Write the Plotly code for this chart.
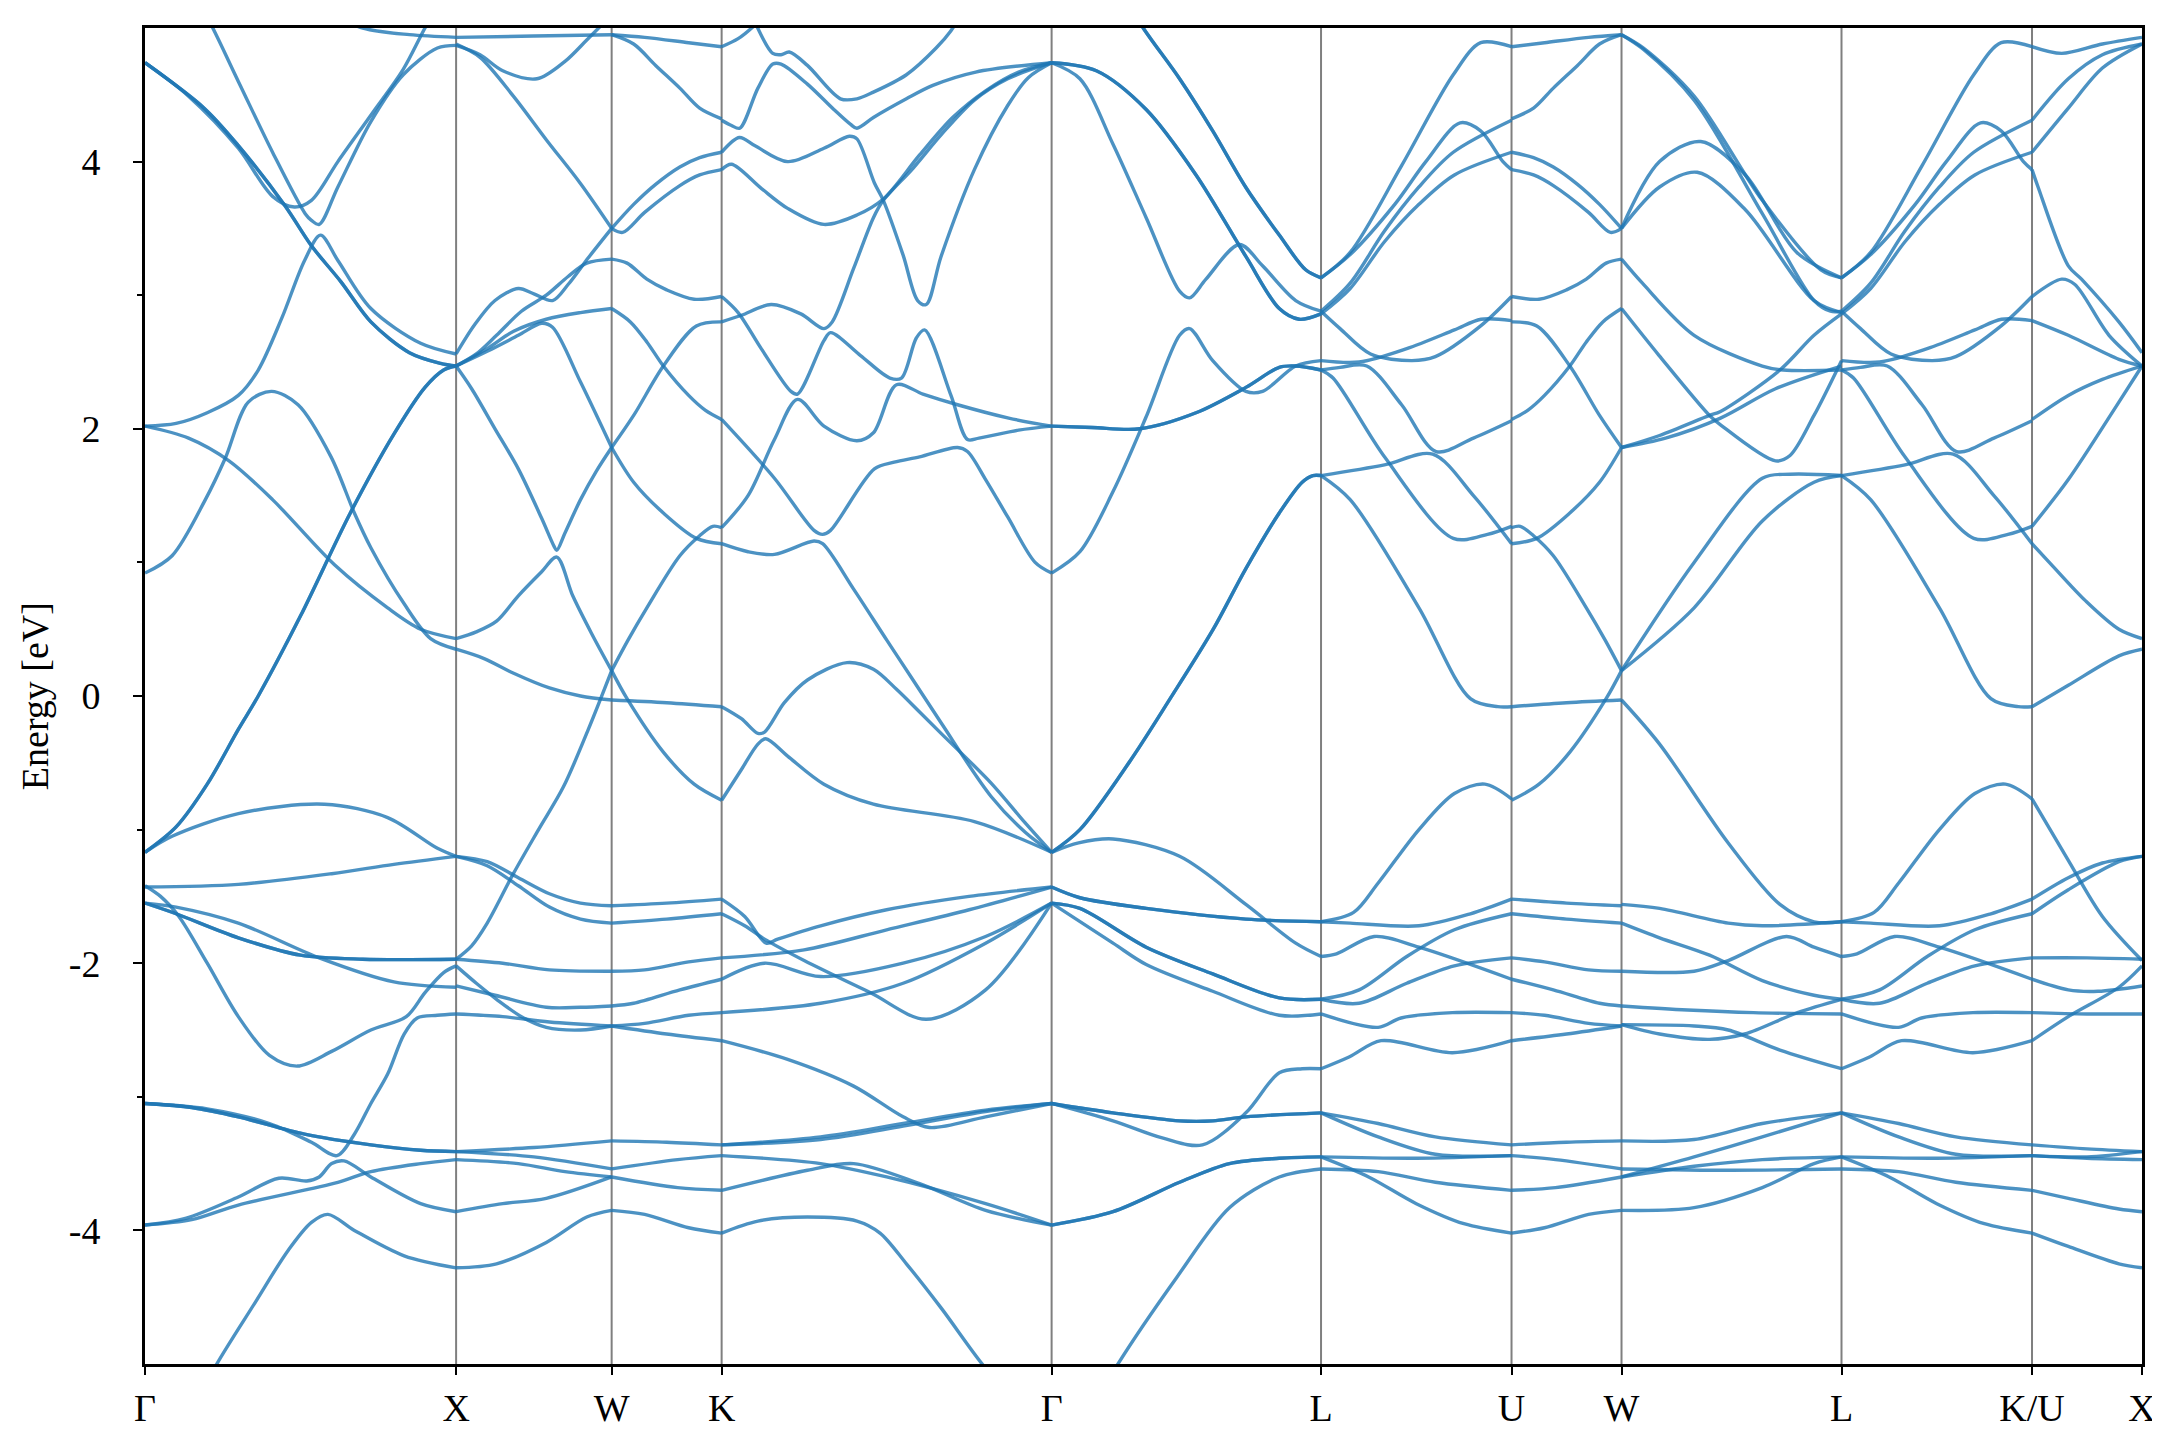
import plotly.graph_objects as go

# ---------------- high-symmetry path ----------------
labels = ["Γ", "X", "W", "K", "Γ", "L", "U", "W", "L", "K/U", "X"]
seg_lengths = [1.0, 0.5, 0.35355, 1.06066, 0.86603, 0.61237, 0.35355, 0.70711, 0.61237, 0.35355]

# Each band piece: list of (fraction along segment, energy in eV)
# ---- Gamma -> X ----
GX = [
    [(0,4.74),(0.14,4.49),(0.30,4.1),(0.41,3.74),(0.48,3.66),(0.535,3.71),(0.62,4.0),(0.73,4.36),(0.83,4.69),(0.9,5.0),(0.95,5.2)],
    [(0.14,5.3),(0.2,5.08),(0.3,4.6),(0.41,4.07),(0.515,3.61),(0.535,3.56),(0.56,3.53),(0.62,3.81),(0.726,4.3),(0.83,4.65),(0.94,4.85),(1,4.87)],
    [(0.55,5.15),(0.7,5.0),(0.85,4.95),(1,4.93)],
    [(0,2.02),(0.1,2.04),(0.2,2.12),(0.3,2.25),(0.364,2.44),(0.44,2.83),(0.513,3.26),(0.564,3.45),(0.62,3.26),(0.726,2.9),(0.886,2.64),(1,2.56)],
    [(0,4.74),(0.19,4.4),(0.30,4.12),(0.45,3.67),(0.535,3.37),(0.63,3.1),(0.726,2.8),(0.85,2.57),(0.95,2.49),(1,2.47)],
    [(0,4.74),(0.19,4.4),(0.30,4.12),(0.45,3.67),(0.535,3.37),(0.63,3.1),(0.726,2.8),(0.85,2.57),(0.95,2.49),(1,2.47)],
    [(0,2.02),(0.14,1.93),(0.27,1.76),(0.41,1.47),(0.61,0.98),(0.78,0.66),(0.886,0.5),(1,0.43)],
    [(0,0.92),(0.087,1.05),(0.194,1.47),(0.258,1.78),(0.332,2.2),(0.407,2.28),(0.492,2.18),(0.598,1.79),(0.673,1.37),(0.726,1.11),(0.833,0.69),(0.918,0.43),(1,0.35)],
    [(0,-1.17),(0.1,-0.98),(0.2,-0.66),(0.3,-0.25),(0.364,0.0),(0.5,0.6),(0.66,1.37),(0.8,1.96),(0.9,2.31),(0.96,2.44),(1,2.47)],
    [(0,-1.17),(0.1,-0.98),(0.2,-0.66),(0.3,-0.25),(0.364,0.0),(0.5,0.6),(0.66,1.37),(0.8,1.96),(0.9,2.31),(0.96,2.44),(1,2.47)],
    [(0,-1.17),(0.087,-1.05),(0.3,-0.88),(0.577,-0.81),(0.78,-0.91),(0.94,-1.14),(1,-1.2)],
    [(0,-1.43),(0.3,-1.41),(0.6,-1.33),(0.8,-1.26),(1,-1.2)],
    [(0,-1.42),(0.05,-1.5),(0.109,-1.65),(0.2,-2.0),(0.3,-2.4),(0.4,-2.69),(0.49,-2.77),(0.6,-2.66),(0.726,-2.5),(0.84,-2.4),(0.9,-2.22),(0.96,-2.07),(1,-2.02)],
    [(0,-1.55),(0.1,-1.63),(0.3,-1.81),(0.5,-1.94),(0.7,-1.97),(1,-1.97)],
    [(0,-1.55),(0.1,-1.63),(0.3,-1.81),(0.5,-1.94),(0.7,-1.97),(1,-1.97)],
    [(0,-1.55),(0.1,-1.58),(0.3,-1.70),(0.56,-1.96),(0.8,-2.14),(1,-2.18)],
    [(0,-3.05),(0.15,-3.08),(0.3,-3.15),(0.513,-3.28),(0.726,-3.36),(0.886,-3.4),(1,-3.41)],
    [(0,-3.05),(0.15,-3.08),(0.3,-3.15),(0.513,-3.28),(0.726,-3.36),(0.886,-3.4),(1,-3.41)],
    [(0,-3.05),(0.2,-3.09),(0.4,-3.2),(0.535,-3.34),(0.617,-3.44),(0.673,-3.28),(0.726,-3.05),(0.78,-2.83),(0.833,-2.53),(0.875,-2.41),(0.94,-2.39),(1,-2.38)],
    [(0,-3.96),(0.13,-3.91),(0.3,-3.75),(0.43,-3.61),(0.52,-3.63),(0.56,-3.6),(0.6,-3.5),(0.64,-3.48),(0.726,-3.6),(0.886,-3.8),(1,-3.86)],
    [(0,-3.96),(0.15,-3.92),(0.3,-3.81),(0.62,-3.64),(0.726,-3.56),(0.886,-3.5),(1,-3.47)],
    [(0.2,-5.15),(0.226,-5.02),(0.354,-4.54),(0.46,-4.15),(0.535,-3.94),(0.588,-3.88),(0.673,-4.0),(0.833,-4.19),(1,-4.28)],
]

# ---- X -> W ----
XW = [
    [(0,4.93),(0.5,4.94),(1,4.95)],
    [(0,4.87),(0.154,4.8),(0.3,4.68),(0.52,4.62),(0.7,4.75),(0.84,4.91),(0.95,5.04),(1,5.1)],
    [(0,4.88),(0.154,4.78),(0.368,4.49),(0.582,4.16),(0.797,3.84),(1,3.5)],
    [(0,2.56),(0.12,2.78),(0.25,2.96),(0.4,3.05),(0.5,3.01),(0.62,2.96),(0.72,3.08),(0.85,3.28),(1,3.5)],
    [(0,2.47),(0.13,2.56),(0.26,2.7),(0.42,2.88),(0.58,3.0),(0.72,3.14),(0.84,3.24),(1,3.27)],
    [(0,2.47),(0.2,2.6),(0.37,2.73),(0.58,2.82),(0.8,2.87),(1,2.9)],
    [(0,2.47),(0.2,2.58),(0.4,2.7),(0.55,2.79),(0.62,2.76),(0.8,2.35),(1,1.86)],
    [(0,2.47),(0.1,2.3),(0.25,2.0),(0.4,1.7),(0.55,1.33),(0.63,1.12),(0.647,1.09),(0.7,1.22),(0.8,1.47),(0.9,1.68),(1,1.86)],
    [(0,0.43),(0.13,0.48),(0.26,0.56),(0.4,0.75),(0.55,0.93),(0.647,1.04),(0.75,0.75),(0.87,0.47),(1,0.19)],
    [(0,0.35),(0.18,0.28),(0.37,0.17),(0.6,0.06),(0.8,0.0),(1,-0.03)],
    [(0,-1.97),(0.1,-1.87),(0.2,-1.7),(0.368,-1.33),(0.53,-1.0),(0.69,-0.68),(0.85,-0.25),(1,0.19)],
    [(0,-1.2),(0.2,-1.24),(0.4,-1.36),(0.6,-1.48),(0.8,-1.55),(1,-1.57)],
    [(0,-1.2),(0.2,-1.27),(0.4,-1.42),(0.6,-1.58),(0.8,-1.67),(1,-1.70)],
    [(0,-1.97),(0.3,-2.0),(0.6,-2.05),(1,-2.06)],
    [(0,-2.02),(0.13,-2.15),(0.26,-2.27),(0.42,-2.4),(0.58,-2.48),(0.8,-2.5),(1,-2.47)],
    [(0,-2.17),(0.25,-2.24),(0.58,-2.33),(0.8,-2.33),(1,-2.32)],
    [(0,-2.38),(0.3,-2.4),(0.6,-2.44),(1,-2.47)],
    [(0,-3.41),(0.5,-3.38),(1,-3.33)],
    [(0,-3.41),(0.5,-3.45),(1,-3.54)],
    [(0,-3.47),(0.4,-3.5),(0.7,-3.56),(1,-3.6)],
    [(0,-3.86),(0.3,-3.8),(0.58,-3.76),(1,-3.6)],
    [(0,-4.28),(0.26,-4.25),(0.58,-4.09),(0.84,-3.9),(1,-3.85)],
]

# ---- W -> K (U -> W is the same, reversed) ----
WK = [
    [(0,4.95),(0.3,4.93),(0.7,4.89),(1,4.86)],
    [(0,4.95),(0.2,4.88),(0.4,4.72),(0.62,4.55),(0.8,4.4),(1,4.32)],
    [(0,3.5),(0.2,3.68),(0.4,3.83),(0.62,3.96),(0.8,4.03),(1,4.07)],
    [(0,3.5),(0.1,3.47),(0.3,3.62),(0.62,3.82),(0.8,3.9),(1,3.94)],
    [(0,3.27),(0.14,3.24),(0.32,3.12),(0.5,3.04),(0.75,2.97),(1,2.99)],
    [(0,2.9),(0.17,2.8),(0.32,2.65),(0.47,2.47),(0.7,2.25),(0.85,2.14),(1,2.07)],
    [(0,1.86),(0.2,2.1),(0.47,2.47),(0.77,2.77),(1,2.8)],
    [(0,1.86),(0.2,1.6),(0.47,1.37),(0.77,1.18),(1,1.14)],
    [(0,0.19),(0.15,0.42),(0.32,0.66),(0.62,1.05),(0.8,1.2),(0.92,1.27),(1,1.26)],
    [(0,-0.03),(0.5,-0.05),(1,-0.08)],
    [(0,0.19),(0.14,-0.02),(0.47,-0.42),(0.75,-0.66),(1,-0.78)],
    [(0,-1.57),(0.5,-1.55),(1,-1.52)],
    [(0,-1.70),(0.5,-1.67),(1,-1.63)],
    [(0,-2.06),(0.3,-2.05),(0.7,-1.99),(1,-1.96)],
    [(0,-2.47),(0.5,-2.53),(1,-2.58)],
    [(0,-2.32),(0.2,-2.3),(0.62,-2.2),(1,-2.12)],
    [(0,-2.47),(0.3,-2.45),(0.7,-2.39),(1,-2.37)],
    [(0,-3.33),(0.5,-3.34),(1,-3.36)],
    [(0,-3.54),(0.6,-3.47),(1,-3.44)],
    [(0,-3.6),(0.6,-3.68),(1,-3.7)],
    [(0,-3.85),(0.3,-3.88),(0.7,-3.98),(1,-4.02)],
]

# ---- K -> Gamma ----
KG = [
    [(0,4.86),(0.05,4.92),(0.1,5.02),(0.15,5.15)],
    [(0.1,5.05),(0.155,4.81),(0.18,4.8),(0.205,4.82),(0.26,4.72),(0.36,4.47),(0.41,4.47),(0.46,4.52),(0.56,4.65),(0.65,4.85),(0.695,4.98),(0.75,5.2)],
    [(0,4.31),(0.03,4.27),(0.055,4.25),(0.11,4.55),(0.155,4.73),(0.18,4.73),(0.26,4.58),(0.34,4.39),(0.39,4.28),(0.41,4.25),(0.46,4.33),(0.56,4.47),(0.64,4.57),(0.77,4.67),(1,4.74)],
    [(0,4.07),(0.054,4.18),(0.1,4.12),(0.2,4.0),(0.31,4.1),(0.387,4.19),(0.41,4.17),(0.463,3.84),(0.49,3.71),(0.55,3.3),(0.594,2.96),(0.62,2.93),(0.665,3.29),(0.766,3.94),(0.867,4.42),(0.93,4.63),(1,4.74)],
    [(0,3.94),(0.03,3.98),(0.12,3.8),(0.2,3.65),(0.31,3.53),(0.41,3.6),(0.49,3.72),(0.6,4.05),(0.7,4.33),(0.8,4.53),(0.9,4.67),(1,4.74)],
    [(0,2.8),(0.06,2.85),(0.15,2.93),(0.24,2.86),(0.31,2.75),(0.335,2.8),(0.4,3.2),(0.46,3.58),(0.49,3.71),(0.58,3.95),(0.665,4.2),(0.766,4.46),(0.867,4.62),(1,4.74)],
    [(0,2.99),(0.05,2.87),(0.12,2.6),(0.21,2.28),(0.23,2.26),(0.31,2.66),(0.33,2.72),(0.42,2.55),(0.51,2.38),(0.545,2.38),(0.59,2.68),(0.615,2.74),(0.695,2.25),(0.745,1.92),(0.78,1.93),(0.9,1.99),(1,2.02)],
    [(0,1.26),(0.08,1.5),(0.16,1.92),(0.23,2.22),(0.31,2.02),(0.41,1.91),(0.46,1.97),(0.53,2.33),(0.61,2.26),(0.715,2.18),(0.87,2.08),(1,2.02)],
    [(0,2.07),(0.16,1.63),(0.28,1.24),(0.306,1.21),(0.33,1.24),(0.463,1.7),(0.523,1.75),(0.6,1.79),(0.715,1.86),(0.745,1.83),(0.8,1.62),(0.867,1.34),(0.95,1.0),(1,0.92)],
    [(0,1.14),(0.08,1.08),(0.16,1.06),(0.28,1.16),(0.306,1.14),(0.4,0.8),(0.5,0.42),(0.58,0.12),(0.665,-0.2),(0.816,-0.75),(0.92,-1.02),(1,-1.17)],
    [(0,-0.08),(0.06,-0.17),(0.11,-0.28),(0.13,-0.27),(0.19,-0.05),(0.26,0.12),(0.38,0.25),(0.46,0.2),(0.53,0.05),(0.6,-0.12),(0.665,-0.28),(0.816,-0.65),(0.92,-0.95),(1,-1.17)],
    [(0,-0.78),(0.06,-0.55),(0.11,-0.36),(0.134,-0.32),(0.2,-0.45),(0.31,-0.66),(0.46,-0.81),(0.766,-0.94),(1,-1.17)],
    [(0,-1.52),(0.07,-1.65),(0.135,-1.85),(0.17,-1.82),(0.3,-1.72),(0.5,-1.6),(0.75,-1.5),(1,-1.43)],
    [(0,-1.63),(0.07,-1.72),(0.13,-1.82),(0.25,-1.98),(0.45,-2.22),(0.62,-2.42),(0.8,-2.2),(1,-1.55)],
    [(0,-1.96),(0.25,-1.9),(0.5,-1.75),(0.75,-1.6),(1,-1.43)],
    [(0,-2.12),(0.13,-2.0),(0.3,-2.1),(0.55,-2.0),(0.8,-1.8),(1,-1.55)],
    [(0,-2.37),(0.3,-2.3),(0.55,-2.15),(0.8,-1.85),(1,-1.55)],
    [(0,-2.58),(0.2,-2.72),(0.4,-2.92),(0.55,-3.15),(0.63,-3.23),(0.8,-3.15),(1,-3.05)],
    [(0,-3.36),(0.3,-3.3),(0.55,-3.2),(0.8,-3.1),(1,-3.05)],
    [(0,-3.36),(0.3,-3.32),(0.55,-3.22),(0.8,-3.11),(1,-3.05)],
    [(0,-3.44),(0.3,-3.5),(0.5,-3.6),(0.8,-3.8),(1,-3.96)],
    [(0,-3.7),(0.26,-3.55),(0.4,-3.5),(0.6,-3.65),(0.8,-3.85),(1,-3.96)],
    [(0,-4.02),(0.11,-3.93),(0.26,-3.9),(0.41,-3.93),(0.48,-4.02),(0.56,-4.25),(0.665,-4.58),(0.796,-5.02),(0.9,-5.3)],
]

# ---- Gamma -> L ----
GL = [
    [(0.25,5.3),(0.34,5.0),(0.475,4.62),(0.598,4.23),(0.72,3.81),(0.845,3.45),(0.943,3.19),(1,3.13)],
    [(0.25,5.3),(0.34,5.0),(0.475,4.62),(0.598,4.23),(0.72,3.81),(0.845,3.45),(0.943,3.19),(1,3.13)],
    [(0,4.74),(0.166,4.68),(0.351,4.39),(0.536,3.9),(0.721,3.29),(0.845,2.9),(0.919,2.82),(1,2.86)],
    [(0,4.74),(0.166,4.68),(0.351,4.39),(0.536,3.9),(0.721,3.29),(0.845,2.9),(0.919,2.82),(1,2.86)],
    [(0,4.74),(0.105,4.62),(0.228,4.13),(0.351,3.58),(0.475,3.03),(0.512,2.98),(0.573,3.12),(0.697,3.38),(0.783,3.22),(0.906,2.96),(1,2.88)],
    [(0,0.92),(0.105,1.08),(0.228,1.53),(0.351,2.09),(0.475,2.7),(0.512,2.75),(0.598,2.51),(0.721,2.28),(0.783,2.28),(0.906,2.47),(1,2.51)],
    [(0,2.02),(0.15,2.01),(0.327,2.0),(0.536,2.12),(0.721,2.31),(0.845,2.46),(0.906,2.47),(1,2.44)],
    [(0,2.02),(0.15,2.01),(0.327,2.0),(0.536,2.12),(0.721,2.31),(0.845,2.46),(0.906,2.47),(1,2.44)],
    [(0,-1.17),(0.105,-1.0),(0.29,-0.49),(0.44,-0.02),(0.6,0.5),(0.72,0.95),(0.845,1.37),(0.93,1.6),(0.97,1.65),(1,1.65)],
    [(0,-1.17),(0.105,-1.0),(0.29,-0.49),(0.44,-0.02),(0.6,0.5),(0.72,0.95),(0.845,1.37),(0.93,1.6),(0.97,1.65),(1,1.65)],
    [(0,-1.17),(0.1,-1.1),(0.228,-1.07),(0.475,-1.2),(0.721,-1.56),(0.906,-1.85),(1,-1.95)],
    [(0,-1.43),(0.105,-1.51),(0.351,-1.59),(0.721,-1.67),(1,-1.69)],
    [(0,-1.43),(0.105,-1.51),(0.351,-1.59),(0.721,-1.67),(1,-1.69)],
    [(0,-1.55),(0.105,-1.59),(0.351,-1.88),(0.598,-2.08),(0.845,-2.26),(1,-2.27)],
    [(0,-1.55),(0.105,-1.59),(0.351,-1.88),(0.598,-2.08),(0.845,-2.26),(1,-2.27)],
    [(0,-1.55),(0.228,-1.85),(0.351,-2.01),(0.598,-2.21),(0.845,-2.39),(1,-2.38)],
    [(0,-3.05),(0.228,-3.12),(0.475,-3.18),(0.598,-3.18),(0.721,-3.15),(1,-3.12)],
    [(0,-3.05),(0.228,-3.12),(0.475,-3.18),(0.598,-3.18),(0.721,-3.15),(1,-3.12)],
    [(0,-3.05),(0.228,-3.18),(0.414,-3.31),(0.56,-3.36),(0.721,-3.12),(0.845,-2.82),(0.93,-2.79),(1,-2.79)],
    [(0,-3.96),(0.228,-3.86),(0.475,-3.64),(0.66,-3.5),(0.845,-3.46),(1,-3.45)],
    [(0,-3.96),(0.228,-3.86),(0.475,-3.64),(0.66,-3.5),(0.845,-3.46),(1,-3.45)],
    [(0.19,-5.2),(0.24,-5.02),(0.465,-4.35),(0.66,-3.83),(0.845,-3.6),(1,-3.54)],
]

# ---- L -> U (L -> K is the same) ----
LU = [
    [(0,3.13),(0.153,3.32),(0.423,3.97),(0.694,4.65),(0.838,4.89),(1,4.86)],
    [(0,3.13),(0.15,3.3),(0.387,3.68),(0.55,4.0),(0.73,4.29),(0.838,4.23),(0.955,4.0),(1,3.94)],
    [(0,2.88),(0.153,3.09),(0.333,3.48),(0.514,3.81),(0.694,4.07),(1,4.31)],
    [(0,2.86),(0.153,3.05),(0.333,3.4),(0.514,3.68),(0.7,3.9),(1,4.07)],
    [(0,2.88),(0.1,2.75),(0.26,2.56),(0.477,2.51),(0.6,2.54),(0.838,2.77),(1,2.99)],
    [(0,2.51),(0.2,2.5),(0.45,2.6),(0.7,2.74),(0.84,2.82),(1,2.81)],
    [(0,2.44),(0.1,2.46),(0.24,2.47),(0.423,2.18),(0.604,1.83),(0.8,1.93),(1,2.06)],
    [(0,2.44),(0.063,2.38),(0.333,1.79),(0.694,1.18),(0.874,1.21),(1,1.27)],
    [(0,1.65),(0.333,1.73),(0.586,1.81),(0.8,1.5),(1,1.14)],
    [(0,1.65),(0.153,1.47),(0.514,0.66),(0.784,-0.02),(0.928,-0.08),(1,-0.08)],
    [(0,-1.69),(0.171,-1.62),(0.3,-1.4),(0.514,-1.0),(0.7,-0.73),(0.86,-0.66),(1,-0.77)],
    [(0,-1.69),(0.153,-1.70),(0.514,-1.72),(0.784,-1.63),(1,-1.52)],
    [(0,-1.95),(0.081,-1.93),(0.279,-1.8),(0.514,-1.88),(1,-2.12)],
    [(0,-2.27),(0.2,-2.3),(0.45,-2.15),(0.7,-2.02),(1,-1.96)],
    [(0,-2.27),(0.2,-2.2),(0.45,-1.95),(0.7,-1.75),(1,-1.63)],
    [(0,-2.38),(0.3,-2.48),(0.42,-2.41),(0.69,-2.37),(1,-2.37)],
    [(0,-2.79),(0.15,-2.7),(0.315,-2.58),(0.69,-2.67),(1,-2.58)],
    [(0,-3.12),(0.3,-3.2),(0.6,-3.3),(1,-3.36)],
    [(0,-3.12),(0.3,-3.3),(0.6,-3.43),(1,-3.44)],
    [(0,-3.45),(0.5,-3.46),(1,-3.44)],
    [(0,-3.54),(0.3,-3.56),(0.6,-3.64),(1,-3.7)],
    [(0,-3.45),(0.25,-3.6),(0.5,-3.8),(0.75,-3.95),(1,-4.02)],
]

# ---- W -> L ----
WL = [
    [(0,4.95),(0.1,4.85),(0.33,4.49),(0.64,3.71),(0.906,3.19),(1,3.13)],
    [(0,4.95),(0.1,4.84),(0.33,4.46),(0.64,3.61),(0.875,2.96),(0.95,2.88),(1,2.88)],
    [(0,3.5),(0.173,4.0),(0.36,4.15),(0.563,3.9),(0.797,3.32),(1,3.13)],
    [(0,3.5),(0.173,3.81),(0.344,3.92),(0.563,3.64),(0.875,2.96),(1,2.87)],
    [(0,3.27),(0.095,3.09),(0.33,2.7),(0.64,2.47),(0.735,2.44),(1,2.44)],
    [(0,2.9),(0.17,2.55),(0.4,2.1),(0.45,2.03),(0.7,1.76),(0.766,1.8),(0.875,2.1),(1,2.51)],
    [(0,1.86),(0.173,1.95),(0.4,2.1),(0.45,2.13),(0.72,2.44),(0.875,2.7),(1,2.86)],
    [(0,1.86),(0.2,1.93),(0.45,2.08),(0.7,2.3),(1,2.47)],
    [(0,0.19),(0.33,1.0),(0.64,1.63),(0.766,1.66),(1,1.65)],
    [(0,0.19),(0.33,0.66),(0.64,1.31),(0.875,1.6),(1,1.65)],
    [(0,-0.03),(0.173,-0.36),(0.485,-1.1),(0.72,-1.56),(0.875,-1.69),(1,-1.69)],
    [(0,-1.56),(0.173,-1.59),(0.485,-1.7),(0.64,-1.72),(1,-1.69)],
    [(0,-1.70),(0.173,-1.81),(0.4,-1.94),(0.64,-2.13),(0.875,-2.24),(1,-2.27)],
    [(0,-2.06),(0.33,-2.06),(0.485,-1.98),(0.75,-1.8),(0.875,-1.88),(1,-1.95)],
    [(0,-2.32),(0.3,-2.35),(0.6,-2.37),(1,-2.38)],
    [(0,-2.46),(0.33,-2.47),(0.485,-2.5),(0.72,-2.65),(1,-2.79)],
    [(0,-2.46),(0.173,-2.53),(0.4,-2.57),(0.56,-2.53),(0.8,-2.37),(1,-2.27)],
    [(0,-3.33),(0.33,-3.32),(0.64,-3.2),(1,-3.12)],
    [(0,-3.54),(0.5,-3.55),(1,-3.54)],
    [(0,-3.6),(0.33,-3.52),(0.64,-3.47),(1,-3.45)],
    [(0,-3.85),(0.33,-3.83),(0.64,-3.68),(0.875,-3.5),(1,-3.45)],
    [(0,-3.6),(0.33,-3.45),(0.64,-3.3),(1,-3.12)],
]

# ---- U -> X ----
UX = [
    [(0,4.86),(0.27,4.81),(0.64,4.88),(1,4.93)],
    [(0,4.31),(0.33,4.62),(0.64,4.8),(1,4.88)],
    [(0,4.07),(0.33,4.4),(0.64,4.7),(1,4.88)],
    [(0,3.94),(0.055,3.81),(0.33,3.22),(0.45,3.12),(0.79,2.8),(1,2.57)],
    [(0,2.99),(0.27,3.12),(0.39,3.08),(0.7,2.7),(1,2.47)],
    [(0,2.81),(0.33,2.7),(0.79,2.52),(1,2.47)],
    [(0,2.07),(0.33,2.25),(0.64,2.37),(1,2.47)],
    [(0,1.27),(0.33,1.62),(0.79,2.2),(1,2.47)],
    [(0,1.14),(0.18,0.98),(0.49,0.71),(0.79,0.5),(1,0.43)],
    [(0,-0.08),(0.33,0.08),(0.79,0.3),(1,0.35)],
    [(0,-0.77),(0.33,-1.23),(0.64,-1.65),(1,-1.98)],
    [(0,-1.52),(0.33,-1.36),(0.64,-1.25),(1,-1.2)],
    [(0,-1.63),(0.33,-1.45),(0.79,-1.24),(1,-1.2)],
    [(0,-1.96),(0.5,-1.96),(1,-1.97)],
    [(0,-2.12),(0.33,-2.2),(0.6,-2.21),(1,-2.17)],
    [(0,-2.37),(0.5,-2.38),(1,-2.38)],
    [(0,-2.58),(0.33,-2.4),(0.79,-2.18),(1,-2.02)],
    [(0,-3.36),(0.5,-3.39),(1,-3.41)],
    [(0,-3.44),(0.5,-3.45),(1,-3.41)],
    [(0,-3.44),(0.5,-3.46),(1,-3.47)],
    [(0,-3.7),(0.33,-3.76),(0.79,-3.84),(1,-3.86)],
    [(0,-4.02),(0.33,-4.12),(0.79,-4.25),(1,-4.28)],
]

# segment order along the path: (band pieces, reversed?)
path_segments = [(GX, False), (XW, False), (WK, False), (KG, False), (GL, False),
                 (LU, False), (WK, True), (WL, False), (LU, False), (UX, False)]

# ---------------- figure ----------------
kpos = [0.0]
for L in seg_lengths:
    kpos.append(kpos[-1] + L)

band_color = "rgba(31,119,180,0.8)"
fig = go.Figure()
for i, (pieces, rev) in enumerate(path_segments):
    k0, L = kpos[i], seg_lengths[i]
    for piece in pieces:
        ts = [p[0] for p in piece]
        es = [p[1] for p in piece]
        if rev:
            ts = [1 - t for t in ts]
        xs = [k0 + t * L for t in ts]
        fig.add_trace(go.Scatter(x=xs, y=es, mode="lines",
                                 line=dict(color=band_color, width=3.4, shape="spline", smoothing=0.9),
                                 hoverinfo="skip", showlegend=False))

for k in kpos[1:-1]:
    fig.add_shape(type="line", x0=k, x1=k, y0=0, y1=1, xref="x", yref="paper",
                  line=dict(color="rgba(0,0,0,0.5)", width=2), layer="below")

font_family = "Liberation Serif, Times New Roman, serif"
fig.update_layout(
    width=2160, height=1440,
    margin=dict(l=137, r=23, t=20, b=84),
    plot_bgcolor="white", paper_bgcolor="white",
    font=dict(family=font_family, size=38, color="black"),
    showlegend=False,
)
fig.update_xaxes(range=[0, kpos[-1]], tickvals=kpos, ticktext=labels,
                 ticks="outside", ticklen=8, tickwidth=2, tickcolor="black",
                 ticklabelstandoff=0,
                 showline=True, linewidth=3, linecolor="black", mirror=True,
                 showgrid=False, zeroline=False, tickfont=dict(size=38))
fig.update_yaxes(range=[-5, 5], tickvals=[-4, -2, 0, 2, 4], ticktext=["-4", "-2", "0", "2", "4"],
                 ticks="outside", ticklen=9, tickwidth=2, tickcolor="black",
                 ticklabelstandoff=25,
                 minor=dict(tickvals=[-3, -1, 1, 3], ticks="outside", ticklen=5, tickwidth=1.5, tickcolor="black"),
                 showline=True, linewidth=3, linecolor="black", mirror=True,
                 showgrid=False, zeroline=False, tickfont=dict(size=38))
fig.add_annotation(text="Energy [eV]", textangle=-90, xref="paper", yref="paper",
                   x=(4 - 137) / 2000, y=0.5, xanchor="left", yanchor="middle",
                   showarrow=False, font=dict(size=38, family=font_family, color="black"))

fig.write_html("out.html")
